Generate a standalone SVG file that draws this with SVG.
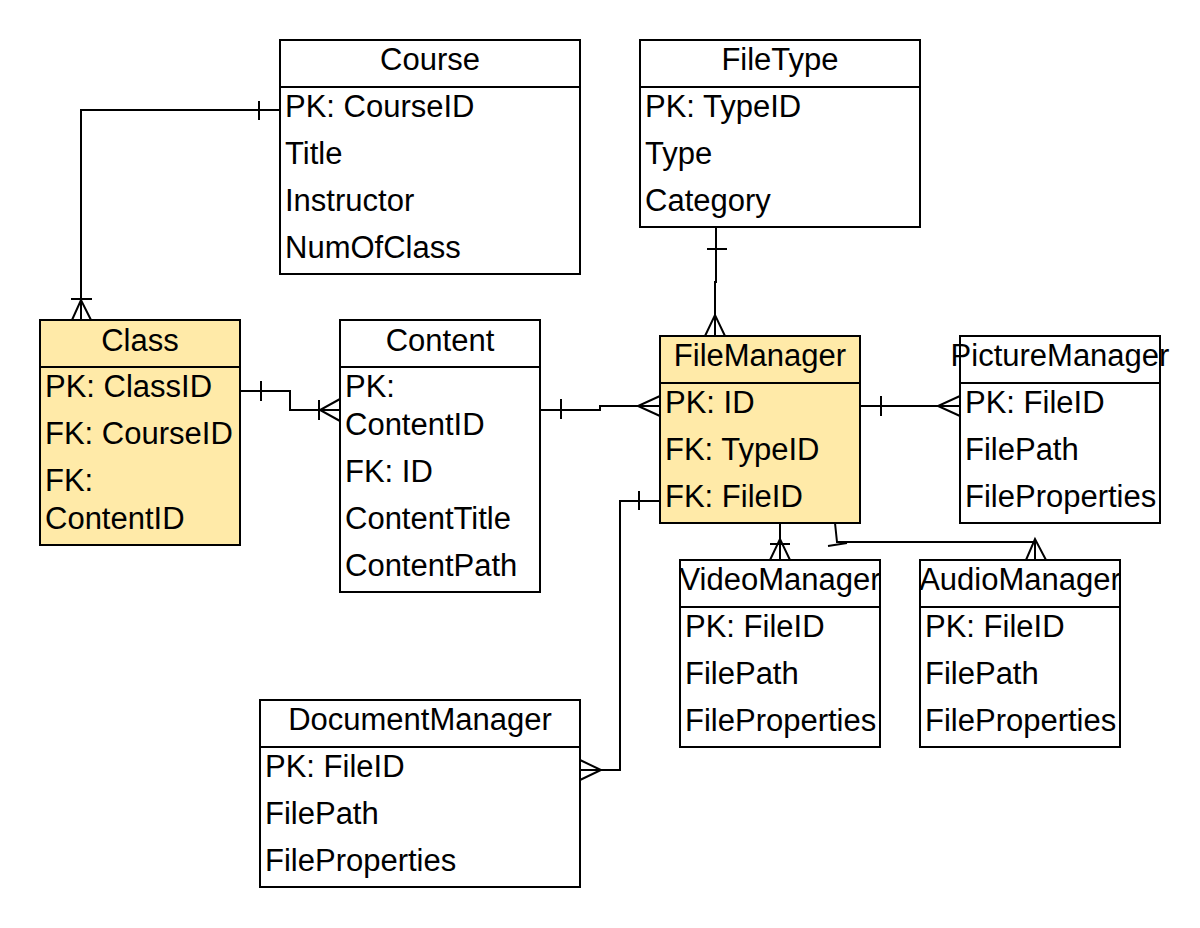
<svg xmlns="http://www.w3.org/2000/svg" width="1200" height="928" viewBox="0 0 1200 928">
<style>
.box{fill:#ffffff;stroke:#000;stroke-width:2}
.hl{fill:#ffeaa8}
.t{font-family:"Liberation Sans",Arial,sans-serif;font-size:31px;fill:#000}
.c{text-anchor:middle}
.ln{fill:none;stroke:#000;stroke-width:2}
</style>
<rect width="1200" height="928" fill="#fff"/>
<g id="Course">
<rect class="box" x="280" y="40" width="300" height="234"/>
<line class="ln" x1="280" y1="87" x2="580" y2="87"/>
<text class="t c" x="430" y="70">Course</text>
<text class="t" x="285" y="117">PK: CourseID</text>
<text class="t" x="285" y="164">Title</text>
<text class="t" x="285" y="211">Instructor</text>
<text class="t" x="285" y="258">NumOfClass</text>
</g>
<g id="FileType">
<rect class="box" x="640" y="40" width="280" height="187"/>
<line class="ln" x1="640" y1="87" x2="920" y2="87"/>
<text class="t c" x="780" y="70">FileType</text>
<text class="t" x="645" y="117">PK: TypeID</text>
<text class="t" x="645" y="164">Type</text>
<text class="t" x="645" y="211">Category</text>
</g>
<g id="Class">
<rect class="box hl" x="40" y="320" width="200" height="225"/>
<line class="ln" x1="40" y1="367" x2="240" y2="367"/>
<text class="t c" x="140" y="351">Class</text>
<text class="t" x="45" y="397">PK: ClassID</text>
<text class="t" x="45" y="444">FK: CourseID</text>
<text class="t" x="45" y="491">FK:</text>
<text class="t" x="45" y="529">ContentID</text>
</g>
<g id="Content">
<rect class="box" x="340" y="320" width="200" height="272"/>
<line class="ln" x1="340" y1="367" x2="540" y2="367"/>
<text class="t c" x="440" y="351">Content</text>
<text class="t" x="345" y="397">PK:</text>
<text class="t" x="345" y="435">ContentID</text>
<text class="t" x="345" y="482">FK: ID</text>
<text class="t" x="345" y="529">ContentTitle</text>
<text class="t" x="345" y="576">ContentPath</text>
</g>
<g id="FileManager">
<rect class="box hl" x="660" y="336" width="200" height="187"/>
<line class="ln" x1="660" y1="383" x2="860" y2="383"/>
<text class="t c" x="760" y="366">FileManager</text>
<text class="t" x="665" y="413">PK: ID</text>
<text class="t" x="665" y="460">FK: TypeID</text>
<text class="t" x="665" y="507">FK: FileID</text>
</g>
<g id="PictureManager">
<rect class="box" x="960" y="336" width="200" height="187"/>
<line class="ln" x1="960" y1="383" x2="1160" y2="383"/>
<text class="t c" x="1060" y="366">PictureManager</text>
<text class="t" x="965" y="413">PK: FileID</text>
<text class="t" x="965" y="460">FilePath</text>
<text class="t" x="965" y="507">FileProperties</text>
</g>
<g id="VideoManager">
<rect class="box" x="680" y="560" width="200" height="187"/>
<line class="ln" x1="680" y1="607" x2="880" y2="607"/>
<text class="t c" x="780" y="590">VideoManager</text>
<text class="t" x="685" y="637">PK: FileID</text>
<text class="t" x="685" y="684">FilePath</text>
<text class="t" x="685" y="731">FileProperties</text>
</g>
<g id="AudioManager">
<rect class="box" x="920" y="560" width="200" height="187"/>
<line class="ln" x1="920" y1="607" x2="1120" y2="607"/>
<text class="t c" x="1020" y="590">AudioManager</text>
<text class="t" x="925" y="637">PK: FileID</text>
<text class="t" x="925" y="684">FilePath</text>
<text class="t" x="925" y="731">FileProperties</text>
</g>
<g id="DocumentManager">
<rect class="box" x="260" y="700" width="320" height="187"/>
<line class="ln" x1="260" y1="747" x2="580" y2="747"/>
<text class="t c" x="420" y="730">DocumentManager</text>
<text class="t" x="265" y="777">PK: FileID</text>
<text class="t" x="265" y="824">FilePath</text>
<text class="t" x="265" y="871">FileProperties</text>
</g>
<g id="connectors">
<!-- Course - Class -->
<path class="ln" d="M280,110 L81,110 L81,320"/>
<path class="ln" d="M259,101 L259,120"/>
<path class="ln" d="M71,299 L92,299 M72,320 L81,300 L91,320"/>
<!-- Class - Content -->
<path class="ln" d="M240,391 L290,391 L290,410 L340,410"/>
<path class="ln" d="M261,381 L261,401"/>
<path class="ln" d="M319,400 L319,420 M340,399 L320,410 L340,421"/>
<!-- Content - FileManager -->
<path class="ln" d="M540,410 L600,410 L600,406 L660,406"/>
<path class="ln" d="M561,399 L561,419"/>
<path class="ln" d="M660,396 L638,406 L660,416"/>
<!-- FileType - FileManager -->
<path class="ln" d="M716,227 L716,282 L715,282 L715,336"/>
<path class="ln" d="M707,249 L727,249"/>
<path class="ln" d="M705,336 L715,315 L725,336"/>
<!-- FileManager - PictureManager -->
<path class="ln" d="M860,406 L960,406"/>
<path class="ln" d="M881,396 L881,416"/>
<path class="ln" d="M960,396 L938,406 L960,416"/>
<!-- FileManager - VideoManager -->
<path class="ln" d="M780,523 L780,560"/>
<path class="ln" d="M770,544 L790,544 M770,560 L780,539 L790,560"/>
<!-- FileManager - AudioManager -->
<path class="ln" d="M835,523 L837,542 L1035,542 L1035,560"/>
<path class="ln" d="M828,546 L847,543"/>
<path class="ln" d="M1026,560 L1035,539 L1046,560"/>
<!-- FileManager - DocumentManager -->
<path class="ln" d="M660,501 L620,501 L620,770 L580,770"/>
<path class="ln" d="M639,491 L639,510"/>
<path class="ln" d="M580,760 L601,770 L580,780"/>
</g>
</svg>
